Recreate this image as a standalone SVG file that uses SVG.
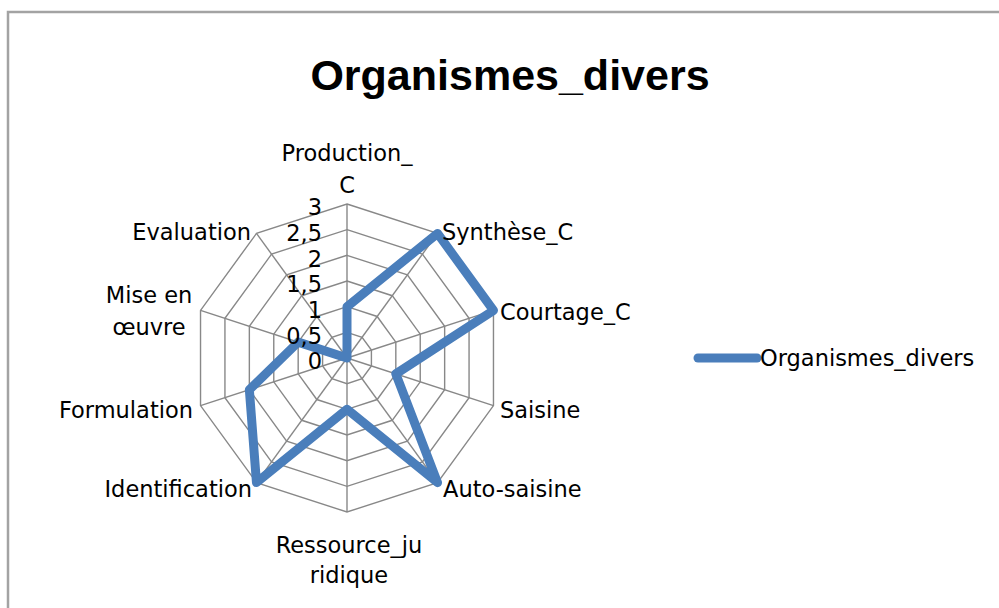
<svg xmlns="http://www.w3.org/2000/svg" width="999" height="608" viewBox="0 0 999 608">
<style>
.lbl{font-family:"DejaVu Sans",sans-serif;font-size:22.5px;fill:#000}
.tick{font-family:"DejaVu Sans",sans-serif;font-size:22.5px;fill:#000;text-anchor:end}
.ring{fill:none;stroke:#888;stroke-width:1.4}
.spoke{stroke:#888;stroke-width:1.4}
.series{fill:none;stroke:#4A7EBB;stroke-width:9;stroke-linejoin:round;stroke-linecap:round}
</style>
<rect x="0" y="0" width="999" height="608" fill="#fff"/>
<rect id="frame" x="8" y="12" width="1010" height="620" fill="none" stroke="#a3a3a3" stroke-width="2.5"/>
<g id="title"><text x="510" y="90" text-anchor="middle" style="font-family:'Liberation Sans',Arial,sans-serif;font-weight:bold;font-size:43px">Organismes_divers</text></g>
<g id="grid">
<polygon class="ring" points="347,204 437.52,233.41 493.47,310.41 493.47,405.59 437.52,482.59 347,512 256.48,482.59 200.53,405.59 200.53,310.41 256.48,233.41"/>
<polygon class="ring" points="347,229.67 422.43,254.18 469.06,318.34 469.06,397.66 422.43,461.82 347,486.33 271.57,461.82 224.94,397.66 224.94,318.34 271.57,254.18"/>
<polygon class="ring" points="347,255.33 407.35,274.94 444.65,326.28 444.65,389.72 407.35,441.06 347,460.67 286.65,441.06 249.35,389.72 249.35,326.28 286.65,274.94"/>
<polygon class="ring" points="347,281 392.26,295.71 420.23,334.21 420.23,381.79 392.26,420.29 347,435 301.74,420.29 273.77,381.79 273.77,334.21 301.74,295.71"/>
<polygon class="ring" points="347,306.67 377.17,316.47 395.82,342.14 395.82,373.86 377.17,399.53 347,409.33 316.83,399.53 298.18,373.86 298.18,342.14 316.83,316.47"/>
<polygon class="ring" points="347,332.33 362.09,337.23 371.41,350.07 371.41,365.93 362.09,378.77 347,383.67 331.91,378.77 322.59,365.93 322.59,350.07 331.91,337.23"/>
<line class="spoke" x1="347" y1="358" x2="347" y2="204"/>
<line class="spoke" x1="347" y1="358" x2="437.52" y2="233.41"/>
<line class="spoke" x1="347" y1="358" x2="493.47" y2="310.41"/>
<line class="spoke" x1="347" y1="358" x2="493.47" y2="405.59"/>
<line class="spoke" x1="347" y1="358" x2="437.52" y2="482.59"/>
<line class="spoke" x1="347" y1="358" x2="347" y2="512"/>
<line class="spoke" x1="347" y1="358" x2="256.48" y2="482.59"/>
<line class="spoke" x1="347" y1="358" x2="200.53" y2="405.59"/>
<line class="spoke" x1="347" y1="358" x2="200.53" y2="310.41"/>
<line class="spoke" x1="347" y1="358" x2="256.48" y2="233.41"/>
</g>
<g id="connectors">
<polygon id="series-organismes" class="series" points="347,306.67 437.52,233.41 493.47,310.41 395.82,373.86 437.52,482.59 347,409.33 256.48,482.59 249.35,389.72 298.18,342.14 347,358"/>
</g>
<g id="ticks">
<text class="tick" x="322" y="215">3</text>
<text class="tick" x="322" y="241">2,5</text>
<text class="tick" x="322" y="266.5">2</text>
<text class="tick" x="322" y="292">1,5</text>
<text class="tick" x="322" y="318">1</text>
<text class="tick" x="322" y="343.5">0,5</text>
<text class="tick" x="322" y="369">0</text>
</g>
<g id="axis-production"><text class="lbl" text-anchor="middle" x="347" y="161">Production_</text><text class="lbl" text-anchor="middle" x="347" y="193">C</text></g>
<g id="axis-synthese"><text class="lbl" x="442" y="240">Synthèse_C</text></g>
<g id="axis-courtage"><text class="lbl" x="500" y="320">Courtage_C</text></g>
<g id="axis-saisine"><text class="lbl" x="500" y="418">Saisine</text></g>
<g id="axis-autosaisine"><text class="lbl" x="443" y="497">Auto-saisine</text></g>
<g id="axis-ressource"><text class="lbl" text-anchor="middle" x="349" y="553">Ressource_ju</text><text class="lbl" text-anchor="middle" x="349" y="583">ridique</text></g>
<g id="axis-identification"><text class="lbl" text-anchor="end" x="252" y="497">Identification</text></g>
<g id="axis-formulation"><text class="lbl" text-anchor="end" x="193" y="418">Formulation</text></g>
<g id="axis-mise"><text class="lbl" text-anchor="middle" x="149" y="303">Mise en</text><text class="lbl" text-anchor="middle" x="149" y="335">œuvre</text></g>
<g id="axis-evaluation"><text class="lbl" text-anchor="end" x="251" y="240">Evaluation</text></g>
<g id="legend">
<line x1="698" y1="358" x2="757" y2="358" stroke="#4A7EBB" stroke-width="9" stroke-linecap="round"/>
<text class="lbl" x="760" y="366">Organismes_divers</text>
</g>
</svg>
